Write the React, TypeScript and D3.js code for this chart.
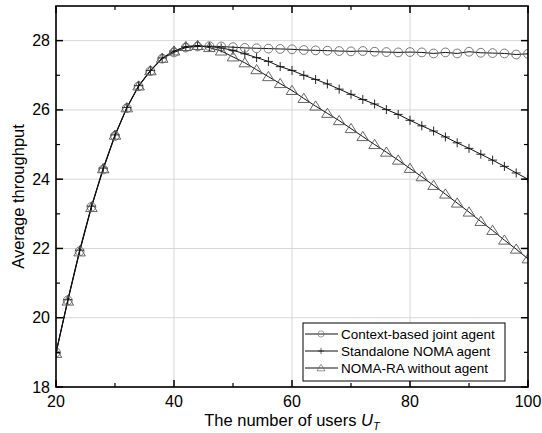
import React from "react";
import * as d3 from "d3";

// users U_T
const users = d3.range(20, 101, 2);

const jointAgent = [
  19.0, 20.5, 21.92, 23.2, 24.28, 25.25, 26.05, 26.68, 27.12, 27.48, 27.66,
  27.8, 27.83, 27.84, 27.83, 27.81, 27.79, 27.78, 27.77, 27.76, 27.75, 27.73,
  27.72, 27.71, 27.7, 27.69, 27.7, 27.68, 27.67, 27.66, 27.67, 27.66, 27.63,
  27.66, 27.63, 27.68, 27.65, 27.64, 27.63, 27.6, 27.62,
];
const standaloneNoma = [
  18.98, 20.52, 21.95, 23.22, 24.32, 25.28, 26.07, 26.7, 27.14, 27.5, 27.7,
  27.82, 27.85, 27.83, 27.79, 27.72, 27.62, 27.51, 27.4, 27.25, 27.14, 27.0,
  26.88, 26.75, 26.6, 26.45, 26.3, 26.17, 26.01, 25.87, 25.7, 25.54, 25.39,
  25.22, 25.05, 24.89, 24.72, 24.55, 24.37, 24.18, 24.0,
];
const nomaRaNoAgent = [
  18.97, 20.48, 21.9, 23.18, 24.3, 25.27, 26.06, 26.69, 27.13, 27.49, 27.7,
  27.83, 27.86, 27.8, 27.7, 27.53, 27.36, 27.16, 26.96, 26.76, 26.56, 26.33,
  26.11, 25.9, 25.69, 25.46, 25.23, 25.0, 24.78, 24.55, 24.31, 24.07, 23.82,
  23.57, 23.31, 23.05, 22.78, 22.52, 22.24, 21.98, 21.7,
];

const xTicks = [20, 40, 60, 80, 100];
const xMinor = [30, 50, 70, 90];
const yTicks = [18, 20, 22, 24, 26, 28];
const yMinor = [19, 21, 23, 25, 27];
const legendLabels = [
  "Context-based joint agent",
  "Standalone NOMA agent",
  "NOMA-RA without agent",
];

const W = 542;
const H = 433;
const m = { left: 56, right: 14, top: 6, bottom: 46 };
const font = "Liberation Sans, Arial, sans-serif";

const Marker = ({ kind, x, y }: { kind: number; x: number; y: number }) => {
  if (kind === 0)
    return <circle cx={x} cy={y} r={4.4} fill="none" stroke="#6a6a6a" strokeWidth={0.9} />;
  if (kind === 1)
    return (
      <path
        d={`M${x - 4.5},${y}H${x + 4.5}M${x},${y - 4.5}V${y + 4.5}`}
        stroke="#111"
        strokeWidth={0.9}
      />
    );
  return (
    <path
      d={`M${x},${y - 5.2}L${x + 5.8},${y + 4}L${x - 5.8},${y + 4}Z`}
      fill="none"
      stroke="#555"
      strokeWidth={0.9}
    />
  );
};

export default function App() {
  const x = d3.scaleLinear().domain([20, 100]).range([m.left, W - m.right]);
  const y = d3.scaleLinear().domain([18, 29]).range([H - m.bottom, m.top]);
  const series = [jointAgent, standaloneNoma, nomaRaNoAgent];
  const line = d3
    .line<number>()
    .x((_, i) => x(users[i]))
    .y((d) => y(d));

  const x0 = x(20), x1 = x(100), y0 = y(18), y1 = y(29);

  return (
    <svg width={W} height={H} style={{ position: "absolute", left: 0, top: 0, background: "#fff" }} fontFamily={font}>
      <defs>
        <clipPath id="plot">
          <rect x={x0} y={y1} width={x1 - x0} height={y0 - y1} />
        </clipPath>
      </defs>
      {/* grid */}
      {xTicks.map((t) => (
        <line key={"gx" + t} x1={x(t)} x2={x(t)} y1={y0} y2={y1} stroke="#d6d6d6" strokeWidth={1} />
      ))}
      {yTicks.map((t) => (
        <line key={"gy" + t} x1={x0} x2={x1} y1={y(t)} y2={y(t)} stroke="#d6d6d6" strokeWidth={1} />
      ))}

      {/* lines + markers */}
      <g clipPath="url(#plot)">
        {series.map((s, k) => (
          <path key={"l" + k} d={line(s) ?? ""} fill="none" stroke="#111" strokeWidth={1} />
        ))}
        {series.map((s, k) =>
          s.map((v, i) => <Marker key={k + "-" + i} kind={k} x={x(users[i])} y={y(v)} />)
        )}
      </g>

      {/* ticks, all four sides pointing in */}
      {xTicks.map((t) => (
        <g key={"xt" + t} stroke="#000" strokeWidth={1.5}>
          <line x1={x(t)} x2={x(t)} y1={y0} y2={y0 - 7} />
          <line x1={x(t)} x2={x(t)} y1={y1} y2={y1 + 7} />
        </g>
      ))}
      {xMinor.map((t) => (
        <g key={"xm" + t} stroke="#000" strokeWidth={1.2}>
          <line x1={x(t)} x2={x(t)} y1={y0} y2={y0 - 4} />
          <line x1={x(t)} x2={x(t)} y1={y1} y2={y1 + 4} />
        </g>
      ))}
      {yTicks.map((t) => (
        <g key={"yt" + t} stroke="#000" strokeWidth={1.5}>
          <line x1={x0} x2={x0 + 7} y1={y(t)} y2={y(t)} />
          <line x1={x1} x2={x1 - 7} y1={y(t)} y2={y(t)} />
        </g>
      ))}
      {yMinor.map((t) => (
        <g key={"ym" + t} stroke="#000" strokeWidth={1.2}>
          <line x1={x0} x2={x0 + 4} y1={y(t)} y2={y(t)} />
          <line x1={x1} x2={x1 - 4} y1={y(t)} y2={y(t)} />
        </g>
      ))}
      <rect x={x0} y={y1} width={x1 - x0} height={y0 - y1} fill="none" stroke="#000" strokeWidth={1.6} />

      {/* tick labels */}
      {xTicks.map((t) => (
        <text key={"xl" + t} x={x(t)} y={y0 + 20} textAnchor="middle" fontSize={16}>
          {t}
        </text>
      ))}
      {yTicks.map((t) => (
        <text key={"yl" + t} x={x0 - 6} y={y(t) + 5.5} textAnchor="end" fontSize={16}>
          {t}
        </text>
      ))}

      {/* axis titles */}
      <text x={(x0 + x1) / 2} y={H - 7} textAnchor="middle" fontSize={16.5}>
        The number of users <tspan fontStyle="italic">U</tspan>
        <tspan fontStyle="italic" fontSize={11} dy={4}>T</tspan>
      </text>
      <text transform={`translate(24,${(y0 + y1) / 2}) rotate(-90)`} textAnchor="middle" fontSize={16.5}>
        Average throughput
      </text>

      {/* legend */}
      <g>
        <rect x={303} y={323} width={202} height={58} fill="#fff" stroke="#000" strokeWidth={1} />
        {legendLabels.map((lab, k) => {
          const ly = 334 + k * 17;
          return (
            <g key={"lg" + k}>
              <line x1={305} x2={338} y1={ly} y2={ly} stroke="#111" strokeWidth={1} />
              <g transform={`translate(${321},${ly}) scale(0.7) translate(${-321},${-ly})`}>
                <Marker kind={k} x={321} y={ly} />
              </g>
              <text x={341} y={ly + 5} fontSize={13.5}>
                {lab}
              </text>
            </g>
          );
        })}
      </g>
    </svg>
  );
}
